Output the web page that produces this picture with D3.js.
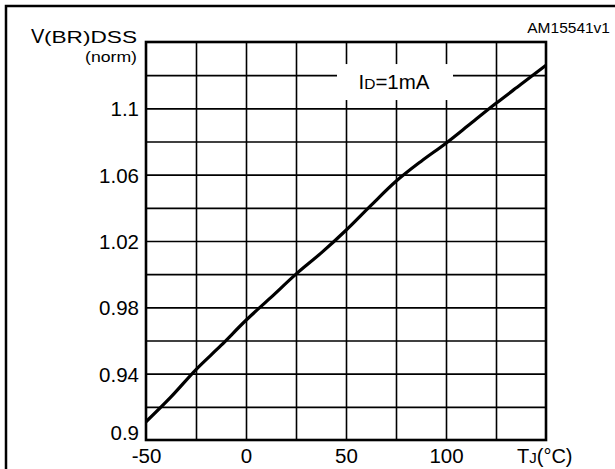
<!DOCTYPE html>
<html>
<head>
<meta charset="utf-8">
<script src="https://cdn.jsdelivr.net/npm/d3@7"></script>
<style>
  body { margin: 0; background: #fff; }
  text { font-family: Arial, "Liberation Sans", Helvetica, sans-serif; fill: #000; }
</style>
</head>
<body>
<div id="chart"></div>
<script>
// ---- data ----
const tempC = [-50, -37.5, -25, -12.5, 0, 12.5, 25, 37.5, 50, 62.5, 75, 87.5, 100, 112.5, 125, 137.5, 150];
const vbrNorm = [0.911, 0.926, 0.9425, 0.957, 0.9722, 0.986, 1.0, 1.0127, 1.0265, 1.0415, 1.056, 1.068, 1.079, 1.091, 1.103, 1.1145, 1.126];

const xTicks = [-50, 0, 50, 100];
const yTicks = [0.9, 0.94, 0.98, 1.02, 1.06, 1.1];
const xGrid = [-25, 0, 25, 50, 75, 100, 125];
const yGrid = [0.92, 0.94, 0.96, 0.98, 1.0, 1.02, 1.04, 1.06, 1.08, 1.1, 1.12];

const W = 615, H = 469;
const M = { left: 146, right: 546, top: 42, bottom: 440 };
const FONT = 'Arial, "Liberation Sans", Helvetica, sans-serif';

const svg = d3.select('#chart').append('svg')
    .attr('width', W)
    .attr('height', H);

// outer frame (right/bottom edges run off the picture)
svg.append('rect')
    .attr('x', 6).attr('y', 6)
    .attr('width', W + 20).attr('height', H + 20)
    .attr('fill', 'none')
    .attr('stroke', '#000')
    .attr('stroke-width', 2.5);

const x = d3.scaleLinear().domain([-50, 150]).range([M.left, M.right]);
const y = d3.scaleLinear().domain([0.9, 1.14]).range([M.bottom, M.top]);

// grid
svg.append('g')
    .attr('transform', `translate(0,${M.bottom})`)
    .call(d3.axisBottom(x).tickValues(xGrid).tickSize(-(M.bottom - M.top)).tickFormat(''))
    .call(g => g.select('.domain').remove())
    .selectAll('line').attr('stroke', '#000').attr('stroke-width', 1.6);

svg.append('g')
    .attr('transform', `translate(${M.left},0)`)
    .call(d3.axisLeft(y).tickValues(yGrid).tickSize(-(M.right - M.left)).tickFormat(''))
    .call(g => g.select('.domain').remove())
    .selectAll('line').attr('stroke', '#000').attr('stroke-width', 1.6);

// label box that blanks the grid
svg.append('rect')
    .attr('x', x(45.5)).attr('y', y(1.1267))
    .attr('width', x(103.5) - x(45.5))
    .attr('height', y(1.105) - y(1.1267))
    .attr('fill', '#fff');

const lbl = svg.append('text')
    .attr('x', 394).attr('y', 89)
    .attr('text-anchor', 'middle');
lbl.append('tspan').style('font-size', '20.5px').text('I');
lbl.append('tspan').style('font-size', '15.5px').text('D');
lbl.append('tspan').style('font-size', '20.5px').text('=1mA');

// plot frame
svg.append('rect')
    .attr('x', M.left).attr('y', M.top)
    .attr('width', M.right - M.left)
    .attr('height', M.bottom - M.top)
    .attr('fill', 'none')
    .attr('stroke', '#000')
    .attr('stroke-width', 2.6);

// curve
const line = d3.line()
    .x((d, i) => x(tempC[i]))
    .y(d => y(d))
    .curve(d3.curveCatmullRom);

svg.append('path')
    .datum(vbrNorm)
    .attr('d', line)
    .attr('fill', 'none')
    .attr('stroke', '#000')
    .attr('stroke-width', 3.2)
    .attr('stroke-linejoin', 'round');

// tick labels
const xAx = svg.append('g')
    .attr('transform', `translate(0,${M.bottom})`)
    .call(d3.axisBottom(x).tickValues(xTicks).tickSize(0).tickPadding(0).tickFormat(d => String(d)));
xAx.select('.domain').remove();
xAx.selectAll('text')
    .attr('y', 23).attr('dy', null)
    .style('font-size', '20.5px')
    .style('font-family', FONT);

const yAx = svg.append('g')
    .attr('transform', `translate(${M.left},0)`)
    .call(d3.axisLeft(y).tickValues(yTicks).tickSize(0).tickPadding(7).tickFormat(d => String(+d.toFixed(2))));
yAx.select('.domain').remove();
yAx.selectAll('text')
    .attr('dy', d => d === 0.9 ? '-0.02em' : '0.36em')
    .style('font-size', '20.5px')
    .style('font-family', FONT);

// axis titles
svg.append('text')
    .attr('x', 31).attr('y', 43)
    .style('font-size', '20px')
    .text('V');
svg.append('text')
    .attr('x', 44).attr('y', 43)
    .attr('textLength', 93)
    .attr('lengthAdjust', 'spacingAndGlyphs')
    .style('font-size', '16px')
    .text('(BR)DSS');

svg.append('text')
    .attr('x', 85).attr('y', 62)
    .attr('textLength', 52)
    .attr('lengthAdjust', 'spacingAndGlyphs')
    .style('font-size', '14.5px')
    .text('(norm)');

const xt = svg.append('text')
    .attr('x', 517).attr('y', 463);
xt.append('tspan').style('font-size', '20px').text('T');
xt.append('tspan').style('font-size', '15px').text('J');
xt.append('tspan').style('font-size', '20px').text('(°C)');

svg.append('text')
    .attr('x', 610).attr('y', 33)
    .attr('text-anchor', 'end')
    .style('font-size', '15.5px')
    .text('AM15541v1');
</script>
</body>
</html>
